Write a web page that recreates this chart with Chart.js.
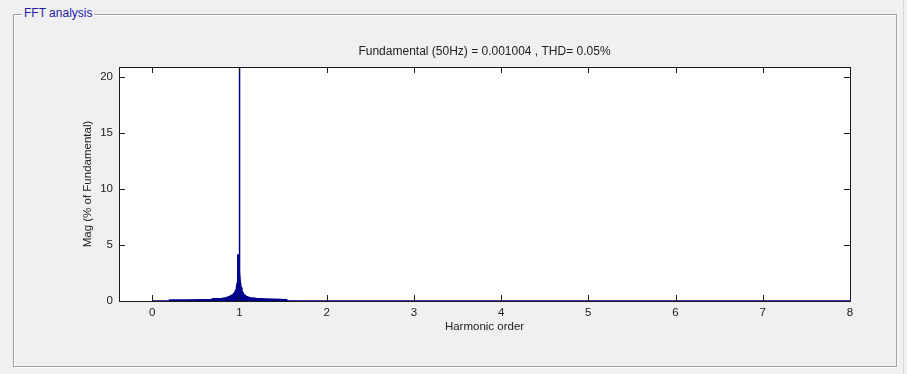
<!DOCTYPE html>
<html>
<head>
<meta charset="utf-8">
<script src="https://cdn.jsdelivr.net/npm/chart.js@4/dist/chart.umd.min.js"></script>
<style>
  html, body { margin: 0; padding: 0; background: #f0f0f0; width: 907px; height: 374px; overflow: hidden; }
  #frame { position: absolute; left: 13px; top: 14px; width: 882px; height: 351px;
           border: 1px solid #a0a0a0; box-shadow: 1px 1px 0 #ffffff inset, 1px 1px 0 #ffffff; }
  #legend { position: absolute; left: 22px; top: 6px; padding: 0 2px; background: #f0f0f0;
            color: #1c1ca8; font: 12px "Liberation Sans", Arial, sans-serif; }
  #outer { position: absolute; left: 903px; top: 0; width: 1px; height: 374px; background: #d8d8d8; }
  #wrap { position: absolute; left: 0; top: 0; width: 907px; height: 374px; }
</style>
</head>
<body>
<div id="outer"></div>
<div id="frame"></div>
<div id="legend">FFT analysis</div>
<div id="wrap"><canvas id="c" width="907" height="374"></canvas></div>
<script>
// ---- data ----
const harmonicOrder = [0, 0.19, 0.2, 0.4, 0.6, 0.68, 0.69, 0.8, 0.85, 0.9, 0.93, 0.95, 0.965, 0.975, 0.98, 0.983, 0.996, 1.0, 1.004, 1.01, 1.02, 1.03, 1.05, 1.08, 1.12, 1.2, 1.3, 1.4, 1.54, 1.55, 2, 8];
const magnitude     = [0, 0, 0.1, 0.1, 0.12, 0.12, 0.2, 0.22, 0.3, 0.45, 0.6, 0.8, 1.1, 1.6, 2.3, 4.1, 4.1, 100, 2.6, 1.7, 1.2, 0.9, 0.6, 0.4, 0.3, 0.22, 0.18, 0.15, 0.12, 0.02, 0.01, 0.01];
const xTickValues = [0, 1, 2, 3, 4, 5, 6, 7, 8];
const yTickValues = [0, 5, 10, 15, 20];
const chartTitle = "Fundamental (50Hz) = 0.001004 , THD= 0.05%";
const xTitle = "Harmonic order";
const yTitle = "Mag (% of Fundamental)";

const points = harmonicOrder.map((x, i) => ({ x: x, y: magnitude[i] }));
const FONT = '"Liberation Sans", Arial, sans-serif';
const TXT = '#222';

const boxPlugin = {
  id: 'box',
  beforeDatasetsDraw(chart) {
    const { ctx, chartArea: a } = chart;
    ctx.save();
    ctx.fillStyle = '#ffffff';
    ctx.fillRect(a.left, a.top, a.right - a.left, a.bottom - a.top);
    ctx.restore();
  },
  afterDatasetsDraw(chart) {
    const { ctx, chartArea: a, scales } = chart;
    ctx.save();
    ctx.beginPath();
    ctx.rect(a.left, a.top, a.right - a.left, a.bottom - a.top);
    ctx.clip();
    ctx.strokeStyle = '#1a1a1a';
    ctx.lineWidth = 1;
    ctx.beginPath();
    scales.x.ticks.forEach(t => {
      const px = Math.round(scales.x.getPixelForValue(t.value)) + 0.5;
      ctx.moveTo(px, a.bottom); ctx.lineTo(px, a.bottom - 6);
      ctx.moveTo(px, a.top); ctx.lineTo(px, a.top + 6);
    });
    scales.y.ticks.forEach(t => {
      const py = Math.round(scales.y.getPixelForValue(t.value)) + 0.5;
      ctx.moveTo(a.left, py); ctx.lineTo(a.left + 6, py);
      ctx.moveTo(a.right, py); ctx.lineTo(a.right - 6, py);
    });
    ctx.stroke();
    ctx.restore();
    ctx.save();
    ctx.strokeStyle = '#1a1a1a';
    ctx.lineWidth = 1;
    ctx.strokeRect(Math.round(a.left) + 0.5, Math.round(a.top) + 0.5,
                   Math.round(a.right - a.left), Math.round(a.bottom - a.top));
    // title centred over the plot area
    ctx.fillStyle = TXT;
    ctx.font = '12px ' + FONT;
    ctx.textAlign = 'center';
    ctx.textBaseline = 'middle';
    ctx.fillText(chartTitle, (a.left + a.right) / 2, a.top - 15);
    ctx.restore();
  }
};

new Chart(document.getElementById('c'), {
  type: 'scatter',
  data: {
    datasets: [{
      data: points,
      showLine: true,
      borderColor: '#00008b',
      backgroundColor: '#00008b',
      borderWidth: 1.5,
      pointRadius: 0,
      fill: 'origin',
      tension: 0
    }]
  },
  plugins: [boxPlugin],
  options: {
    responsive: false,
    animation: false,
    layout: { padding: { left: 0, right: 57, top: 67, bottom: 33 } },
    plugins: {
      legend: { display: false },
      tooltip: { enabled: false },
      title: { display: false }
    },
    scales: {
      x: {
        type: 'linear', min: -0.38, max: 8,
        afterBuildTicks: s => { s.ticks = xTickValues.map(v => ({ value: v })); },
        afterFit: s => { s.height = 40; },
        grid: { display: false, drawTicks: false },
        border: { display: false },
        ticks: { color: TXT, font: { family: FONT, size: 11.5 }, padding: 5, maxRotation: 0 },
        title: { display: true, text: xTitle, color: TXT, font: { family: FONT, size: 11.5 },
                 padding: { top: 0, bottom: 7 } }
      },
      y: {
        type: 'linear', min: 0, max: 20.9,
        afterBuildTicks: s => { s.ticks = yTickValues.map(v => ({ value: v })); },
        afterFit: s => { s.width = 119; },
        grid: { display: false, drawTicks: false },
        border: { display: false },
        ticks: { color: TXT, font: { family: FONT, size: 11.5 }, padding: 6 },
        title: { display: true, text: yTitle, color: TXT, font: { family: FONT, size: 11.5 },
                 padding: { top: 81, bottom: 0 } }
      }
    }
  }
});
</script>
</body>
</html>
